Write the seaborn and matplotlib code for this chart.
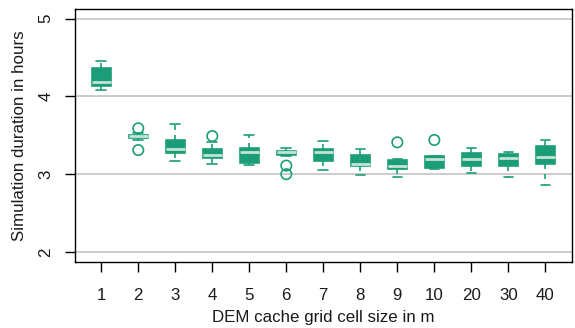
import numpy as np
import pandas as pd
import matplotlib
matplotlib.use("Agg")
import matplotlib.pyplot as plt
import seaborn as sns

# Category labels (DEM cache grid cell size in m)
sizes = ["1", "2", "3", "4", "5", "6", "7", "8", "9", "10", "20", "30", "40"]

# Box statistics (hours)
whisker_low = [4.08, 3.44, 3.17, 3.13, 3.12, 3.23, 3.05, 2.99, 2.97, 3.07, 3.02, 2.97, 2.86]
q1          = [4.13, 3.46, 3.27, 3.21, 3.15, 3.25, 3.17, 3.10, 3.07, 3.08, 3.10, 3.10, 3.13]
median      = [4.19, 3.49, 3.33, 3.25, 3.29, 3.28, 3.28, 3.13, 3.11, 3.19, 3.20, 3.21, 3.22]
q3          = [4.36, 3.51, 3.44, 3.32, 3.34, 3.30, 3.32, 3.25, 3.18, 3.23, 3.27, 3.26, 3.36]
whisker_high= [4.45, 3.53, 3.65, 3.42, 3.50, 3.34, 3.43, 3.32, 3.19, 3.24, 3.34, 3.28, 3.44]

# Outliers
outlier_size  = ["2", "2", "4", "6", "6", "9", "10"]
outlier_value = [3.59, 3.31, 3.49, 3.11, 3.00, 3.41, 3.44]

GREEN = "#1b9e77"
MEDIAN = "#c4e3d6"
TEXT = "#1a1a1a"

rows = []
for s, a, b, c, d, e in zip(sizes, whisker_low, q1, median, q3, whisker_high):
    for v in (a, b, c, d, e):
        rows.append({"size": s, "hours": v})
df = pd.DataFrame(rows)
df_out = pd.DataFrame({"size": outlier_size, "hours": outlier_value})

sns.set_theme(style="white")
plt.rcParams["font.family"] = ["Liberation Sans", "DejaVu Sans"]

fig = plt.figure(figsize=(5.75, 3.28), dpi=100)
ax = fig.add_axes([0.1304, 0.2012, 0.8644, 0.7714])

for yv in [2, 3, 4, 5]:
    ax.axhline(yv, color="#bebebe", lw=1.1, zorder=0)

sns.boxplot(
    data=df, x="size", y="hours", order=sizes, ax=ax,
    whis=(0, 100), width=0.52, showfliers=False,
    color=GREEN, linecolor=GREEN, linewidth=1.2, saturation=1,
    boxprops=dict(facecolor=GREEN, edgecolor=GREEN, zorder=2),
    medianprops=dict(color=MEDIAN, linewidth=2.0, solid_capstyle="butt"),
    whiskerprops=dict(color=GREEN, linestyle=(0, (3, 3)), linewidth=1.2),
    capprops=dict(color=GREEN, linewidth=1.2),
)

n_before = len(ax.collections)
sns.stripplot(data=df_out, x="size", y="hours", order=sizes, ax=ax,
              jitter=False, size=7.5, marker="o", color=GREEN, zorder=3)
for coll in ax.collections[n_before:]:
    coll.set_facecolor("none")
    coll.set_edgecolor(GREEN)
    coll.set_linewidth(1.2)

ax.set_xlim(-0.71, 12.72)
ax.set_ylim(1.87, 5.125)
ax.set_yticks([2, 3, 4, 5])
ax.set_yticklabels(["2", "3", "4", "5"])

for sp in ax.spines.values():
    sp.set_visible(True)
    sp.set_color("black")
    sp.set_linewidth(1.0)

ax.tick_params(axis="both", which="major", direction="out", length=7.5,
               width=1.0, color="black", labelsize=12.2, labelcolor=TEXT,
               bottom=True, left=True)
ax.tick_params(axis="x", pad=11)
ax.tick_params(axis="y", pad=8, labelrotation=90)
for lab in ax.get_yticklabels():
    lab.set_va("center")

ax.set_xlabel("DEM cache grid cell size in m", fontsize=12.2, color=TEXT, labelpad=5)
ax.set_ylabel("Simulation duration in hours", fontsize=12.2, color=TEXT, labelpad=8)

fig.savefig("out.png", dpi=100)
